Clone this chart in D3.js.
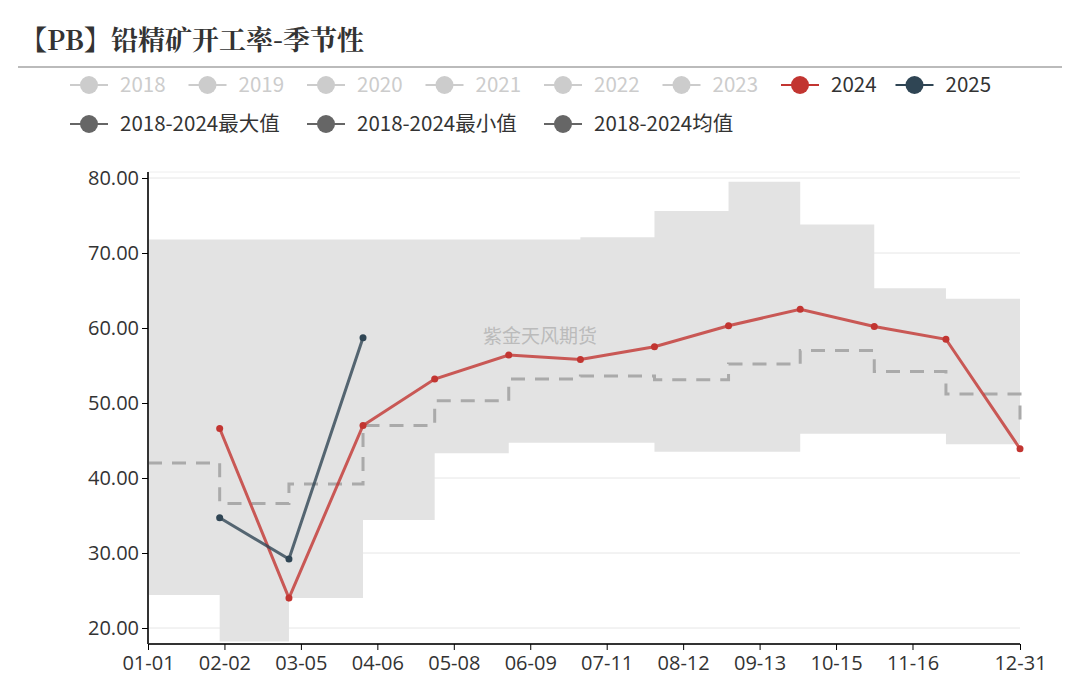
<!DOCTYPE html>
<html><head><meta charset="utf-8">
<script src="https://cdn.jsdelivr.net/npm/d3@7"></script>
<style>body{margin:0;background:#fff;font-family:"Noto Sans CJK SC","Noto Sans",sans-serif;}</style>
</head><body><div id="chart"></div>
<script>
// month-end dates of the observations
const dates = ["2024-01-31","2024-02-29","2024-03-31","2024-04-30","2024-05-31","2024-06-30",
               "2024-07-31","2024-08-31","2024-09-30","2024-10-31","2024-11-30","2024-12-31"];
const s2024 = [46.6, 24.0, 47.0, 53.2, 56.4, 55.8, 57.5, 60.3, 62.5, 60.2, 58.5, 43.9];
const s2025 = [34.7, 29.2, 58.7];
const maxVals = [71.8, 71.8, 71.8, 71.8, 71.8, 71.8, 72.1, 75.6, 79.5, 73.8, 65.3, 63.9];
const minVals = [24.4, 18.2, 24.0, 34.4, 43.3, 44.7, 44.7, 43.5, 43.5, 45.9, 45.9, 44.5];
const meanVals = [42.0, 36.6, 39.2, 47.0, 50.3, 53.2, 53.6, 53.1, 55.2, 57.0, 54.2, 51.2];
const tickLabels = ["01-01","02-02","03-05","04-06","05-08","06-09","07-11","08-12","09-13","10-15","11-16","12-31"];
const yTicks = [20, 30, 40, 50, 60, 70, 80];
const legend1 = [["2018","#ccc",true],["2019","#ccc",true],["2020","#ccc",true],["2021","#ccc",true],
                 ["2022","#ccc",true],["2023","#ccc",true],["2024","#c23531",false],["2025","#2f4554",false]];
const legend2 = ["2018-2024最大值","2018-2024最小值","2018-2024均值"];

const W = 1080, H = 686;
const svg = d3.select("#chart").append("svg").attr("width", W).attr("height", H);
const parse = d3.timeParse("%Y-%m-%d");
const x = d3.scaleTime().domain([parse("2024-01-01"), parse("2024-12-31")]).range([148, 1020]);
const y = d3.scaleLinear().domain([20, 80]).range([628, 178]);

// title
svg.append("text").attr("x", 20).attr("y", 50).text("【PB】铅精矿开工率-季节性")
   .attr("font-family", "'Noto Serif CJK SC','Noto Sans CJK SC',serif").attr("font-weight", "bold")
   .attr("font-size", 27).attr("fill", "#333");
svg.append("line").attr("x1", 18).attr("x2", 1062).attr("y1", 67).attr("y2", 67)
   .attr("stroke", "#bbb").attr("stroke-width", 2);

// legend
function legendItem(g, xx, yy, label, color, faded) {
  g.append("line").attr("x1", xx).attr("x2", xx + 38).attr("y1", yy).attr("y2", yy).attr("stroke", color).attr("stroke-width", 2);
  g.append("circle").attr("cx", xx + 19).attr("cy", yy).attr("r", 9).attr("fill", color);
  g.append("text").attr("x", xx + 50).attr("y", yy + 7).text(label).attr("font-size", 20.5)
   .attr("fill", faded ? "#ccc" : "#333");
}
const lg = svg.append("g");
legend1.forEach((d, i) => legendItem(lg, 70 + i * 118.5 - (i > 6 ? 4 : 0), 85, d[0], d[1], d[2]));
[70, 307, 544].forEach((xx, i) => legendItem(lg, xx, 124, legend2[i], "#666", false));

// grid
svg.append("g").selectAll("line").data(yTicks).join("line")
   .attr("x1", 148).attr("x2", 1020).attr("y1", d => y(d)).attr("y2", d => y(d))
   .attr("stroke", "#e6e6e6");
svg.append("line").attr("x1", 148).attr("x2", 1020).attr("y1", 172).attr("y2", 172).attr("stroke", "#eee");

// band min-max
const pts = dates.map(parse);
const bandDates = [parse("2024-01-01")].concat(pts);
const bandMax = [maxVals[0]].concat(maxVals), bandMin = [minVals[0]].concat(minVals);
const area = d3.area().curve(d3.curveStepBefore)
  .x((d, i) => x(bandDates[i])).y0((d, i) => y(bandMin[i])).y1((d, i) => y(bandMax[i]));
svg.append("path").datum(bandDates).attr("d", area).attr("fill", "#e3e3e3");

// mean
const meanD = [meanVals[0]].concat(meanVals, [47]);
const meanDates = bandDates.concat([parse("2024-12-31")]);
svg.append("path").datum(meanD)
   .attr("d", d3.line().curve(d3.curveStepBefore).x((d, i) => x(meanDates[i])).y(d => y(d)))
   .attr("fill", "none").attr("stroke", "#aaa").attr("stroke-width", 3).attr("stroke-dasharray", "14,10");

// watermark
svg.append("text").attr("x", 540).attr("y", 343).attr("text-anchor", "middle").text("紫金天风期货")
   .attr("font-size", 19).attr("fill", "#bbb");

// series
function series(vals, color, opa) {
  const data = vals.map((v, i) => [pts[i], v]);
  svg.append("path").datum(data).attr("d", d3.line().x(d => x(d[0])).y(d => y(d[1])))
     .attr("fill", "none").attr("stroke", color).attr("stroke-width", 3).attr("stroke-opacity", opa);
  svg.append("g").selectAll("circle").data(data).join("circle")
     .attr("cx", d => x(d[0])).attr("cy", d => y(d[1])).attr("r", 3.5).attr("fill", color);
}
series(s2024, "#c23531", 0.8);
series(s2025, "#2f4554", 0.8);

// axes
const yAxis = svg.append("g").attr("transform", "translate(148,0)")
  .call(d3.axisLeft(y).tickValues(yTicks).tickFormat(d3.format(".2f")).tickSize(6));
yAxis.select(".domain").attr("d", "M0,172V644").attr("stroke", "#333").attr("stroke-width", 2);
yAxis.selectAll("text").attr("font-size", 20).attr("fill", "#333").attr("font-family", "'Open Sans',sans-serif");

const tickDates = tickLabels.map(t => parse("2024-" + t));
const xAxis = svg.append("g").attr("transform", "translate(0,644)")
  .call(d3.axisBottom(x).tickValues(tickDates).tickFormat(d3.timeFormat("%m-%d")).tickSize(6));
xAxis.select(".domain").attr("d", "M148,0H1020").attr("stroke", "#333").attr("stroke-width", 2);
xAxis.selectAll("text").attr("font-size", 20).attr("fill", "#333").attr("dy", "0.85em").attr("font-family", "'Open Sans',sans-serif");
</script></body></html>
